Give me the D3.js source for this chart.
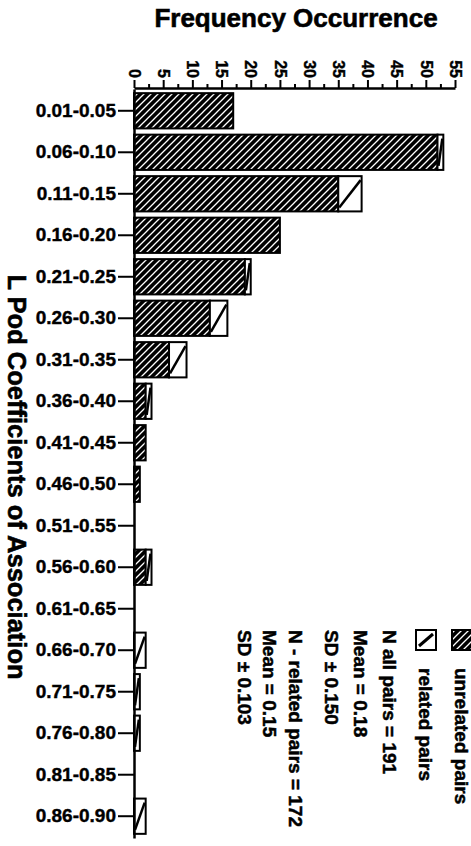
<!DOCTYPE html>
<html>
<head>
<meta charset="utf-8">
<script src="https://cdn.jsdelivr.net/npm/d3@7"></script>
<style>
  body { margin: 0; background: #fff; }
  text { font-family: "Liberation Sans", Arial, sans-serif; font-weight: bold; fill: #000; }
</style>
</head>
<body>
<div id="chart"></div>
<script>
// chart values
var categories = ["0.01-0.05", "0.06-0.10", "0.11-0.15", "0.16-0.20", "0.21-0.25", "0.26-0.30",
  "0.31-0.35", "0.36-0.40", "0.41-0.45", "0.46-0.50", "0.51-0.55", "0.56-0.60",
  "0.61-0.65", "0.66-0.70", "0.71-0.75", "0.76-0.80", "0.81-0.85", "0.86-0.90"];
var unrelated = [17, 52, 35, 25, 19, 13, 6, 2, 2, 1, 0, 2, 0, 0, 0, 0, 0, 0];
var related = [0, 1, 4, 0, 1, 3, 3, 1, 0, 0, 0, 1, 0, 2, 1, 1, 0, 2];
var xTicks = [0, 5, 10, 15, 20, 25, 30, 35, 40, 45, 50, 55];
var legendKeys = ["unrelated pairs", "related pairs"];
var statsLines = ["N all pairs = 191", "Mean = 0.18", "SD \u00b1 0.150",
  "N - related pairs = 172", "Mean = 0.15", "SD \u00b1 0.103"];

var svgWidth = 471;
var svgHeight = 846;

var svg = d3.select("#chart")
  .append("svg")
  .attr("width", svgWidth)
  .attr("height", svgHeight);

svg.append("rect").attr("width", svgWidth).attr("height", svgHeight).attr("fill", "#fff");

// hatch pattern: black with thin white "/" lines
var defs = svg.append("defs");
var pat = defs.append("pattern")
  .attr("id", "hatch")
  .attr("patternUnits", "userSpaceOnUse")
  .attr("width", 7)
  .attr("height", 7);
pat.append("rect").attr("width", 7).attr("height", 7).attr("fill", "#000");
pat.append("path")
  .attr("d", "M-1,1 L1,-1 M0,7 L7,0 M6,8 L8,6")
  .attr("stroke", "#fff")
  .attr("stroke-width", 1.3);

// scales
var x = d3.scaleLinear().domain([0, 55]).range([134, 455]);
var y = d3.scaleBand().domain(categories).range([89, 838]).paddingInner(0.15).paddingOuter(0.1);

// title
svg.append("text")
  .attr("x", 296)
  .attr("y", 27)
  .attr("text-anchor", "middle")
  .style("font-size", "26px")
  .attr("stroke", "#000").attr("stroke-width", 0.6)
  .text("Frequency Occurrence");

// bars: unrelated (hatched) then related (white) stacked on it
var rows = svg.append("g").selectAll("g")
  .data(categories)
  .enter()
  .append("g");

rows.filter(function(d, i) { return unrelated[i] > 0; })
  .append("rect")
  .attr("x", x(0))
  .attr("y", function(d) { return y(d); })
  .attr("width", function(d) { return x(unrelated[categories.indexOf(d)]) - x(0); })
  .attr("height", y.bandwidth())
  .attr("fill", "url(#hatch)")
  .attr("stroke", "#000")
  .attr("stroke-width", 2);

var rel = rows.filter(function(d, i) { return related[i] > 0; });
rel.append("rect")
  .attr("x", function(d) { return x(unrelated[categories.indexOf(d)]); })
  .attr("y", function(d) { return y(d); })
  .attr("width", function(d) {
    var i = categories.indexOf(d);
    return x(unrelated[i] + related[i]) - x(unrelated[i]);
  })
  .attr("height", y.bandwidth())
  .attr("fill", "#fff")
  .attr("stroke", "#000")
  .attr("stroke-width", 2);
rel.append("line")
  .attr("x1", function(d) { return x(unrelated[categories.indexOf(d)]) + 1; })
  .attr("x2", function(d) {
    var i = categories.indexOf(d);
    return x(unrelated[i] + related[i]) - 1;
  })
  .attr("y1", function(d) { return y(d) + y.bandwidth() - 4; })
  .attr("y2", function(d) { return y(d) + 4; })
  .attr("stroke", "#000")
  .attr("stroke-width", 2.5);

// top axis (minor ticks first, then major with labels)
var minorTicks = xTicks.slice(0, -1).map(function(d) { return d + 2.5; });
svg.append("g")
  .attr("transform", "translate(0,88)")
  .call(d3.axisTop(x).tickValues(minorTicks).tickSize(4).tickFormat(""))
  .call(function(g) { g.select(".domain").remove(); })
  .selectAll("line").attr("stroke-width", 2);

var xAxis = svg.append("g")
  .attr("transform", "translate(0,88)")
  .call(d3.axisTop(x).tickValues(xTicks).tickSize(8).tickSizeOuter(0));
xAxis.select(".domain").attr("stroke-width", 2.5);
xAxis.selectAll(".tick line").attr("stroke-width", 2);
xAxis.selectAll(".tick text")
  .attr("transform", "rotate(90)")
  .attr("x", -10)
  .attr("y", 0)
  .attr("dy", "0.36em")
  .attr("text-anchor", "end")
  .attr("stroke", "#000").attr("stroke-width", 0.4)
  .style("font-size", "16px")
  .style("font-family", "'Liberation Sans', Arial, sans-serif");

// left axis with category labels
var yAxis = svg.append("g")
  .attr("transform", "translate(134,0)")
  .call(d3.axisLeft(y).tickSize(16).tickSizeOuter(0).tickPadding(2));
yAxis.select(".domain").attr("stroke-width", 2.5);
yAxis.selectAll(".tick line").attr("stroke-width", 2);
yAxis.selectAll(".tick text")
  .attr("stroke", "#000").attr("stroke-width", 0.4)
  .style("font-size", "19px")
  .style("font-family", "'Liberation Sans', Arial, sans-serif");

// y axis title, rotated
svg.append("text")
  .attr("transform", "translate(17,477) rotate(90)")
  .attr("text-anchor", "middle")
  .attr("dy", "0.36em")
  .style("font-size", "25.5px")
  .attr("stroke", "#000").attr("stroke-width", 0.6)
  .text("L Pod Coefficients of Association");

// legend, rotated like the rest of the page
var keyX = [462, 426];
var keyFills = ["url(#hatch)", "#fff"];
legendKeys.forEach(function(k, i) {
  svg.append("rect")
    .attr("x", keyX[i] - 10)
    .attr("y", 630)
    .attr("width", 20)
    .attr("height", 20)
    .attr("fill", keyFills[i])
    .attr("stroke", "#000")
    .attr("stroke-width", 2);
  if (i === 1) {
    svg.append("line")
      .attr("x1", keyX[i] - 7).attr("y1", 646)
      .attr("x2", keyX[i] + 7).attr("y2", 634)
      .attr("stroke", "#000").attr("stroke-width", 3);
  }
  svg.append("text")
    .attr("transform", "translate(" + keyX[i] + ",668) rotate(90)")
    .attr("dy", "0.36em")
    .style("font-size", "19px")
    .attr("stroke", "#000").attr("stroke-width", 0.5)
    .text(k);
});

var statsX = [390, 361, 332, 296, 270, 245];
statsLines.forEach(function(s, i) {
  svg.append("text")
    .attr("transform", "translate(" + statsX[i] + ",630) rotate(90)")
    .attr("dy", "0.36em")
    .style("font-size", "19px")
    .attr("stroke", "#000").attr("stroke-width", 0.5)
    .text(s);
});
</script>
</body>
</html>
